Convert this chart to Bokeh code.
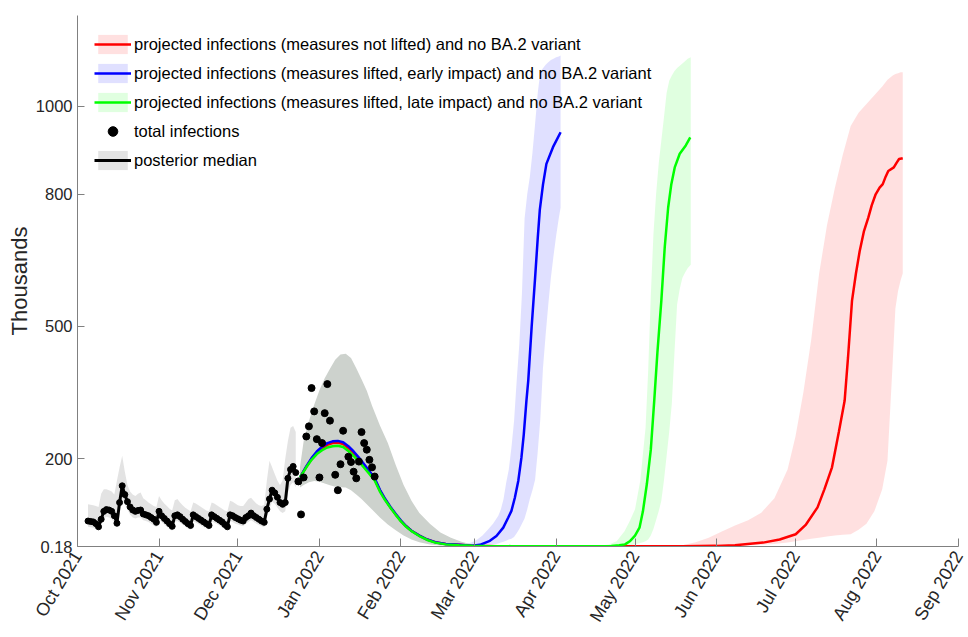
import numpy as np
import pandas as pd
from bokeh.plotting import figure
from bokeh.models import (Range1d, FixedTicker, DatetimeTickFormatter, Legend, LegendItem)
from bokeh.embed import file_html
from bokeh.resources import INLINE

BASE = pd.Timestamp("2021-10-01")
X_END = pd.Timestamp("2022-09-01")

# ---------------- data (days counted from 2021-10-01) ----------------
median_days = list(range(4, 84))
median_vals = [58, 57, 56, 52, 45, 62, 80, 84, 83, 80,
               70, 53, 100, 138, 118, 102, 90, 83, 80, 82,
               83, 74, 72, 70, 66, 62, 55, 80, 70, 64,
               58, 52, 46, 70, 72, 68, 62, 57, 52, 48,
               72, 68, 64, 60, 56, 52, 48, 72, 68, 64,
               60, 56, 50, 45, 72, 70, 66, 63, 60, 58,
               66, 70, 76, 70, 66, 62, 58, 55, 85, 108,
               128, 122, 112, 100, 96, 100, 155, 175, 182, 168]
median_upper = [96, 95, 94, 92, 90, 120, 130,
                130, 128, 125, 118, 150, 180, 206,
                170, 140, 125, 118, 115, 120, 123,
                110, 105, 100, 96, 92, 90, 115,
                105, 98, 92, 86, 82, 105, 108,
                100, 94, 88, 84, 80, 100, 98,
                94, 90, 86, 82, 80, 100, 98,
                94, 90, 86, 82, 80, 104, 102,
                98, 94, 92, 92, 100, 108, 111,
                104, 98, 94, 92, 95, 150, 195,
                180, 165, 150, 140, 150, 200, 240,
                270, 274, 260]
median_lower = [45, 44, 43, 40, 36, 50, 64,
                68, 66, 62, 55, 45, 78, 108,
                96, 84, 72, 66, 64, 66, 66,
                60, 58, 56, 52, 48, 44, 62,
                56, 50, 45, 40, 36, 56, 58,
                54, 50, 45, 41, 38, 58, 54,
                51, 48, 44, 41, 38, 58, 54,
                51, 48, 44, 40, 36, 58, 56,
                52, 50, 48, 46, 52, 56, 60,
                56, 52, 49, 46, 44, 68, 86,
                102, 97, 89, 80, 76, 80, 122,
                140, 146, 134]

# observed totals after the posterior period
obs_days = [84, 85, 86, 87, 88, 89, 90, 91, 92, 93, 94, 95, 96, 98, 99, 100, 101,
            103, 104, 105, 106, 107, 108, 109, 110, 111, 112, 113]
obs_vals = [148, 73, 157, 250, 273, 360, 307, 244, 157, 235, 303, 369, 286, 163, 128, 187, 263,
            204, 192, 170, 155, 193, 260, 235, 220, 197, 180, 159]

# common projection hump (posterior band of projections)
hump_days = [84.6, 86, 88, 90, 92, 94, 96, 98, 100, 102, 104, 106, 108, 110, 112,
             115, 118, 121, 124, 127, 130, 134, 138, 142, 146, 150, 153]
hump_upper = [180, 240, 285, 322, 355, 382, 404, 424, 436, 438, 428, 405, 380, 354, 320,
              275, 235, 185, 140, 104, 76, 52, 32, 20, 11, 5, 3]
hump_lower = [134, 140, 146, 149, 147, 143, 139, 136, 135, 134, 128, 118, 108, 96, 84,
              66, 50, 37, 25, 16, 10, 5, 2.5, 1, 0.5, 0.3, 0.2]

# scenario medians
red_days = [84.6, 87, 89, 91, 93, 95, 97, 99, 101, 103, 105, 107, 109, 111, 113, 115, 117, 119,
            121, 123, 125, 127, 130, 133, 136, 140, 145, 150,
            160, 200, 230, 242.7, 250, 260.7, 267, 273.1, 277, 281.4, 284, 286.9, 289.5, 291.7,
            293, 294.5, 296, 297.4, 299, 300.7, 302, 303.5, 305, 306.2, 307.3, 308.3, 310.4,
            311.5, 312.4, 313.8]
red_vals = [157, 181, 199, 213, 223, 231, 235, 236, 233, 224, 212, 198, 184, 168, 153, 127, 107, 89,
            73, 58, 46, 36, 25, 16, 10, 6, 4, 2,
            1, 0.5, 1, 1.6, 3, 9, 16, 28, 50, 89, 130, 180, 260, 331,
            430, 558, 620, 670, 715, 747, 775, 800, 815, 823, 840, 853, 861,
            872, 880, 882]

blue_days = [84.6, 87, 89, 91, 93, 95, 97, 99, 101, 103, 105, 107, 109, 111, 113, 115, 117, 119,
             121, 123, 125, 127, 130, 133, 136, 140, 145, 150,
             153, 156.8, 159.3, 161.9, 163.8, 165, 166.3, 167.6, 168.8, 169.7, 170.7, 171.4,
             172.7, 174, 175, 175.8, 177, 178.3, 180.8, 183.7]
blue_vals = [157, 182, 201, 216, 227, 235, 239, 240, 237, 228, 216, 202, 187, 171, 155, 129, 108, 90,
             74, 59, 46, 36, 25, 16, 10, 6, 4, 2,
             4, 13, 24, 43, 66, 81, 111, 149, 202, 255, 331, 377,
             500, 610, 700, 765, 822, 869, 907, 941]

green_days = [84.6, 87, 89, 91, 93, 95, 97, 99, 101, 103, 105, 107, 109, 111, 113, 115, 117, 119,
              121, 123, 125, 127, 130, 133, 136, 140, 145, 150,
              155, 165, 180, 195, 203, 206, 208.2, 210, 212, 213.7, 215, 216.5, 218, 219.3,
              220.5, 222, 223.3, 224.6, 225.8, 227.1, 229, 231.3, 233]
green_vals = [157, 180, 197, 210, 219, 225, 228, 229, 226, 217, 206, 193, 179, 165, 150, 125, 105, 88,
              72, 57, 45, 35, 24, 15, 9, 5, 3, 2,
              1.5, 1, 0.8, 0.8, 1.5, 3, 5, 12, 25, 43, 80, 142, 220, 331,
              440, 558, 680, 770, 823, 861, 892, 911, 929]

# scenario uncertainty bands
blue_band_days = [148, 150, 152, 154, 156, 158, 160, 161, 162, 163, 164, 165, 166, 167, 168, 169,
                  170, 171, 172, 173, 174, 175, 176, 177, 178, 179, 180, 181, 182, 183, 183.7]
blue_band_upper = [6, 10, 16, 25, 38, 52, 70, 85, 108, 145, 175, 225, 285, 377, 460, 575,
                   745, 800, 840, 895, 960, 1030, 1078, 1086, 1094, 1100, 1105, 1108, 1111, 1113, 1115]
blue_band_lower = [0.5, 1, 1.5, 2, 3, 5, 7, 9, 11, 13, 16, 18, 22, 30, 40, 52,
                   64, 84, 108, 128, 152, 215, 290, 405, 480, 548, 610, 660, 705, 745, 770]

green_band_days = [198, 202, 205, 208, 210, 212, 214, 215, 216, 217, 218, 219, 220, 221, 222,
                   223, 224, 225, 226, 227, 228, 229, 230, 231, 232, 233.2]
green_band_upper = [2, 5, 12, 35, 58, 85, 150, 210, 270, 400, 570, 710, 800, 870, 922,
                    975, 1030, 1058, 1070, 1080, 1087, 1092, 1097, 1102, 1108, 1111]
green_band_lower = [0, 0.5, 1, 2, 3, 5, 8, 10, 12, 16, 25, 40, 60, 80, 104,
                    150, 205, 260, 325, 440, 550, 585, 610, 622, 632, 640]

red_band_days = [230, 235, 240, 245, 250, 255, 260, 265, 270, 273, 276, 279, 282, 285, 288, 291,
                 294, 297, 300, 303, 306, 308, 310, 311, 312, 313, 313.8]
red_band_upper = [3, 10, 20, 34, 48, 60, 77, 110, 175, 250, 350, 470, 620, 730, 815, 890,
                  955, 985, 1005, 1025, 1045, 1060, 1070, 1073, 1075, 1077, 1077]
red_band_lower = [0, 0.5, 1, 1.5, 2, 3, 4, 6, 9, 12, 15, 18, 20, 23, 25, 27,
                  28, 38, 52, 80, 130, 195, 420, 540, 580, 605, 620]

y_ticks = [0.18, 200, 500, 800, 1000]
y_tick_labels = ["0.18", "200", "500", "800", "1000"]
month_ticks = pd.date_range("2021-10-01", "2022-09-01", freq="MS")

labels = ["projected infections (measures not lifted) and no BA.2 variant",
          "projected infections (measures lifted, early impact) and no BA.2 variant",
          "projected infections (measures lifted, late impact) and no BA.2 variant",
          "total infections",
          "posterior median"]


def to_dt(days):
    return BASE + pd.to_timedelta(np.asarray(days, dtype=float), unit="D")


FONT = "Liberation Sans"
TXT = "#262626"

p = figure(width=968, height=637, x_axis_type="datetime",
           x_range=Range1d(BASE, X_END), y_range=Range1d(0.18, 1206),
           output_backend="svg", toolbar_location=None,
           min_border_left=77, min_border_right=10, min_border_top=15, min_border_bottom=91)
p.outline_line_color = None
p.xgrid.visible = False
p.ygrid.visible = False
p.background_fill_color = "white"

# bands
r_pband = p.varea(x=to_dt(median_days), y1=median_lower, y2=median_upper,
                  fill_color="black", fill_alpha=0.11)
p.varea(x=to_dt(hump_days), y1=hump_lower, y2=hump_upper, fill_color="#cdd2cd", fill_alpha=1.0)
r_rband = p.varea(x=to_dt(red_band_days), y1=red_band_lower, y2=red_band_upper,
                  fill_color="#ff0000", fill_alpha=0.12)
r_bband = p.varea(x=to_dt(blue_band_days), y1=blue_band_lower, y2=blue_band_upper,
                  fill_color="#0000ff", fill_alpha=0.12)
r_gband = p.varea(x=to_dt(green_band_days), y1=green_band_lower, y2=green_band_upper,
                  fill_color="#00ff00", fill_alpha=0.12)

# lines
r_med = p.line(to_dt(median_days), median_vals, line_color="black", line_width=3)
r_red = p.line(to_dt(red_days), red_vals, line_color="#ff0000", line_width=2.5)
r_blue = p.line(to_dt(blue_days), blue_vals, line_color="#0000ff", line_width=2.5)
r_green = p.line(to_dt(green_days), green_vals, line_color="#00ff00", line_width=2.5)

# dots
p.scatter(to_dt(median_days), median_vals, size=6, color="black")
r_dots = p.scatter(to_dt(obs_days), obs_vals, size=7, color="black")

# axes
xa = p.xaxis[0]
xa.ticker = FixedTicker(ticks=[t.value / 1e6 for t in month_ticks])
xa.formatter = DatetimeTickFormatter(years="%b %Y", months="%b %Y", days="%b %Y",
                                     hours="%b %Y", hourmin="%b %Y", minutes="%b %Y",
                                     minsec="%b %Y", seconds="%b %Y", milliseconds="%b %Y",
                                     microseconds="%b %Y")
xa.major_label_orientation = 1.03
xa.major_label_text_font = FONT
xa.major_label_text_font_size = "18px"
xa.major_label_text_color = TXT
xa.major_label_standoff = 6
xa.major_tick_in = 8
xa.major_tick_out = 0
xa.minor_tick_line_color = None
xa.axis_line_color = "#808080"
xa.major_tick_line_color = "#808080"

ya = p.yaxis[0]
ya.ticker = FixedTicker(ticks=y_ticks)
ya.major_label_overrides = {float(v): s for v, s in zip(y_ticks, y_tick_labels)}
ya.major_label_text_font = FONT
ya.major_label_text_font_size = "16.5px"
ya.major_label_text_color = TXT
ya.major_label_standoff = 5
ya.major_tick_in = 7
ya.major_tick_out = 0
ya.minor_tick_line_color = None
ya.axis_line_color = "#808080"
ya.major_tick_line_color = "#808080"
ya.axis_label = "Thousands"
ya.axis_label_text_font = FONT
ya.axis_label_text_font_size = "22px"
ya.axis_label_text_font_style = "normal"
ya.axis_label_text_color = TXT
ya.axis_label_standoff = 1

legend = Legend(items=[
    LegendItem(label=labels[0], renderers=[r_rband, r_red]),
    LegendItem(label=labels[1], renderers=[r_bband, r_blue]),
    LegendItem(label=labels[2], renderers=[r_gband, r_green]),
    LegendItem(label=labels[3], renderers=[r_dots]),
    LegendItem(label=labels[4], renderers=[r_pband, r_med]),
], location="top_left")
legend.margin = 9
legend.padding = 8
legend.spacing = 5
legend.glyph_width = 37
legend.glyph_height = 24
legend.label_standoff = 3
legend.label_text_font = FONT
legend.label_text_font_size = "16.5px"
legend.label_text_color = "black"
legend.border_line_alpha = 0
legend.background_fill_alpha = 0
p.add_layout(legend)

open("out.html", "w").write(file_html(p, INLINE))
